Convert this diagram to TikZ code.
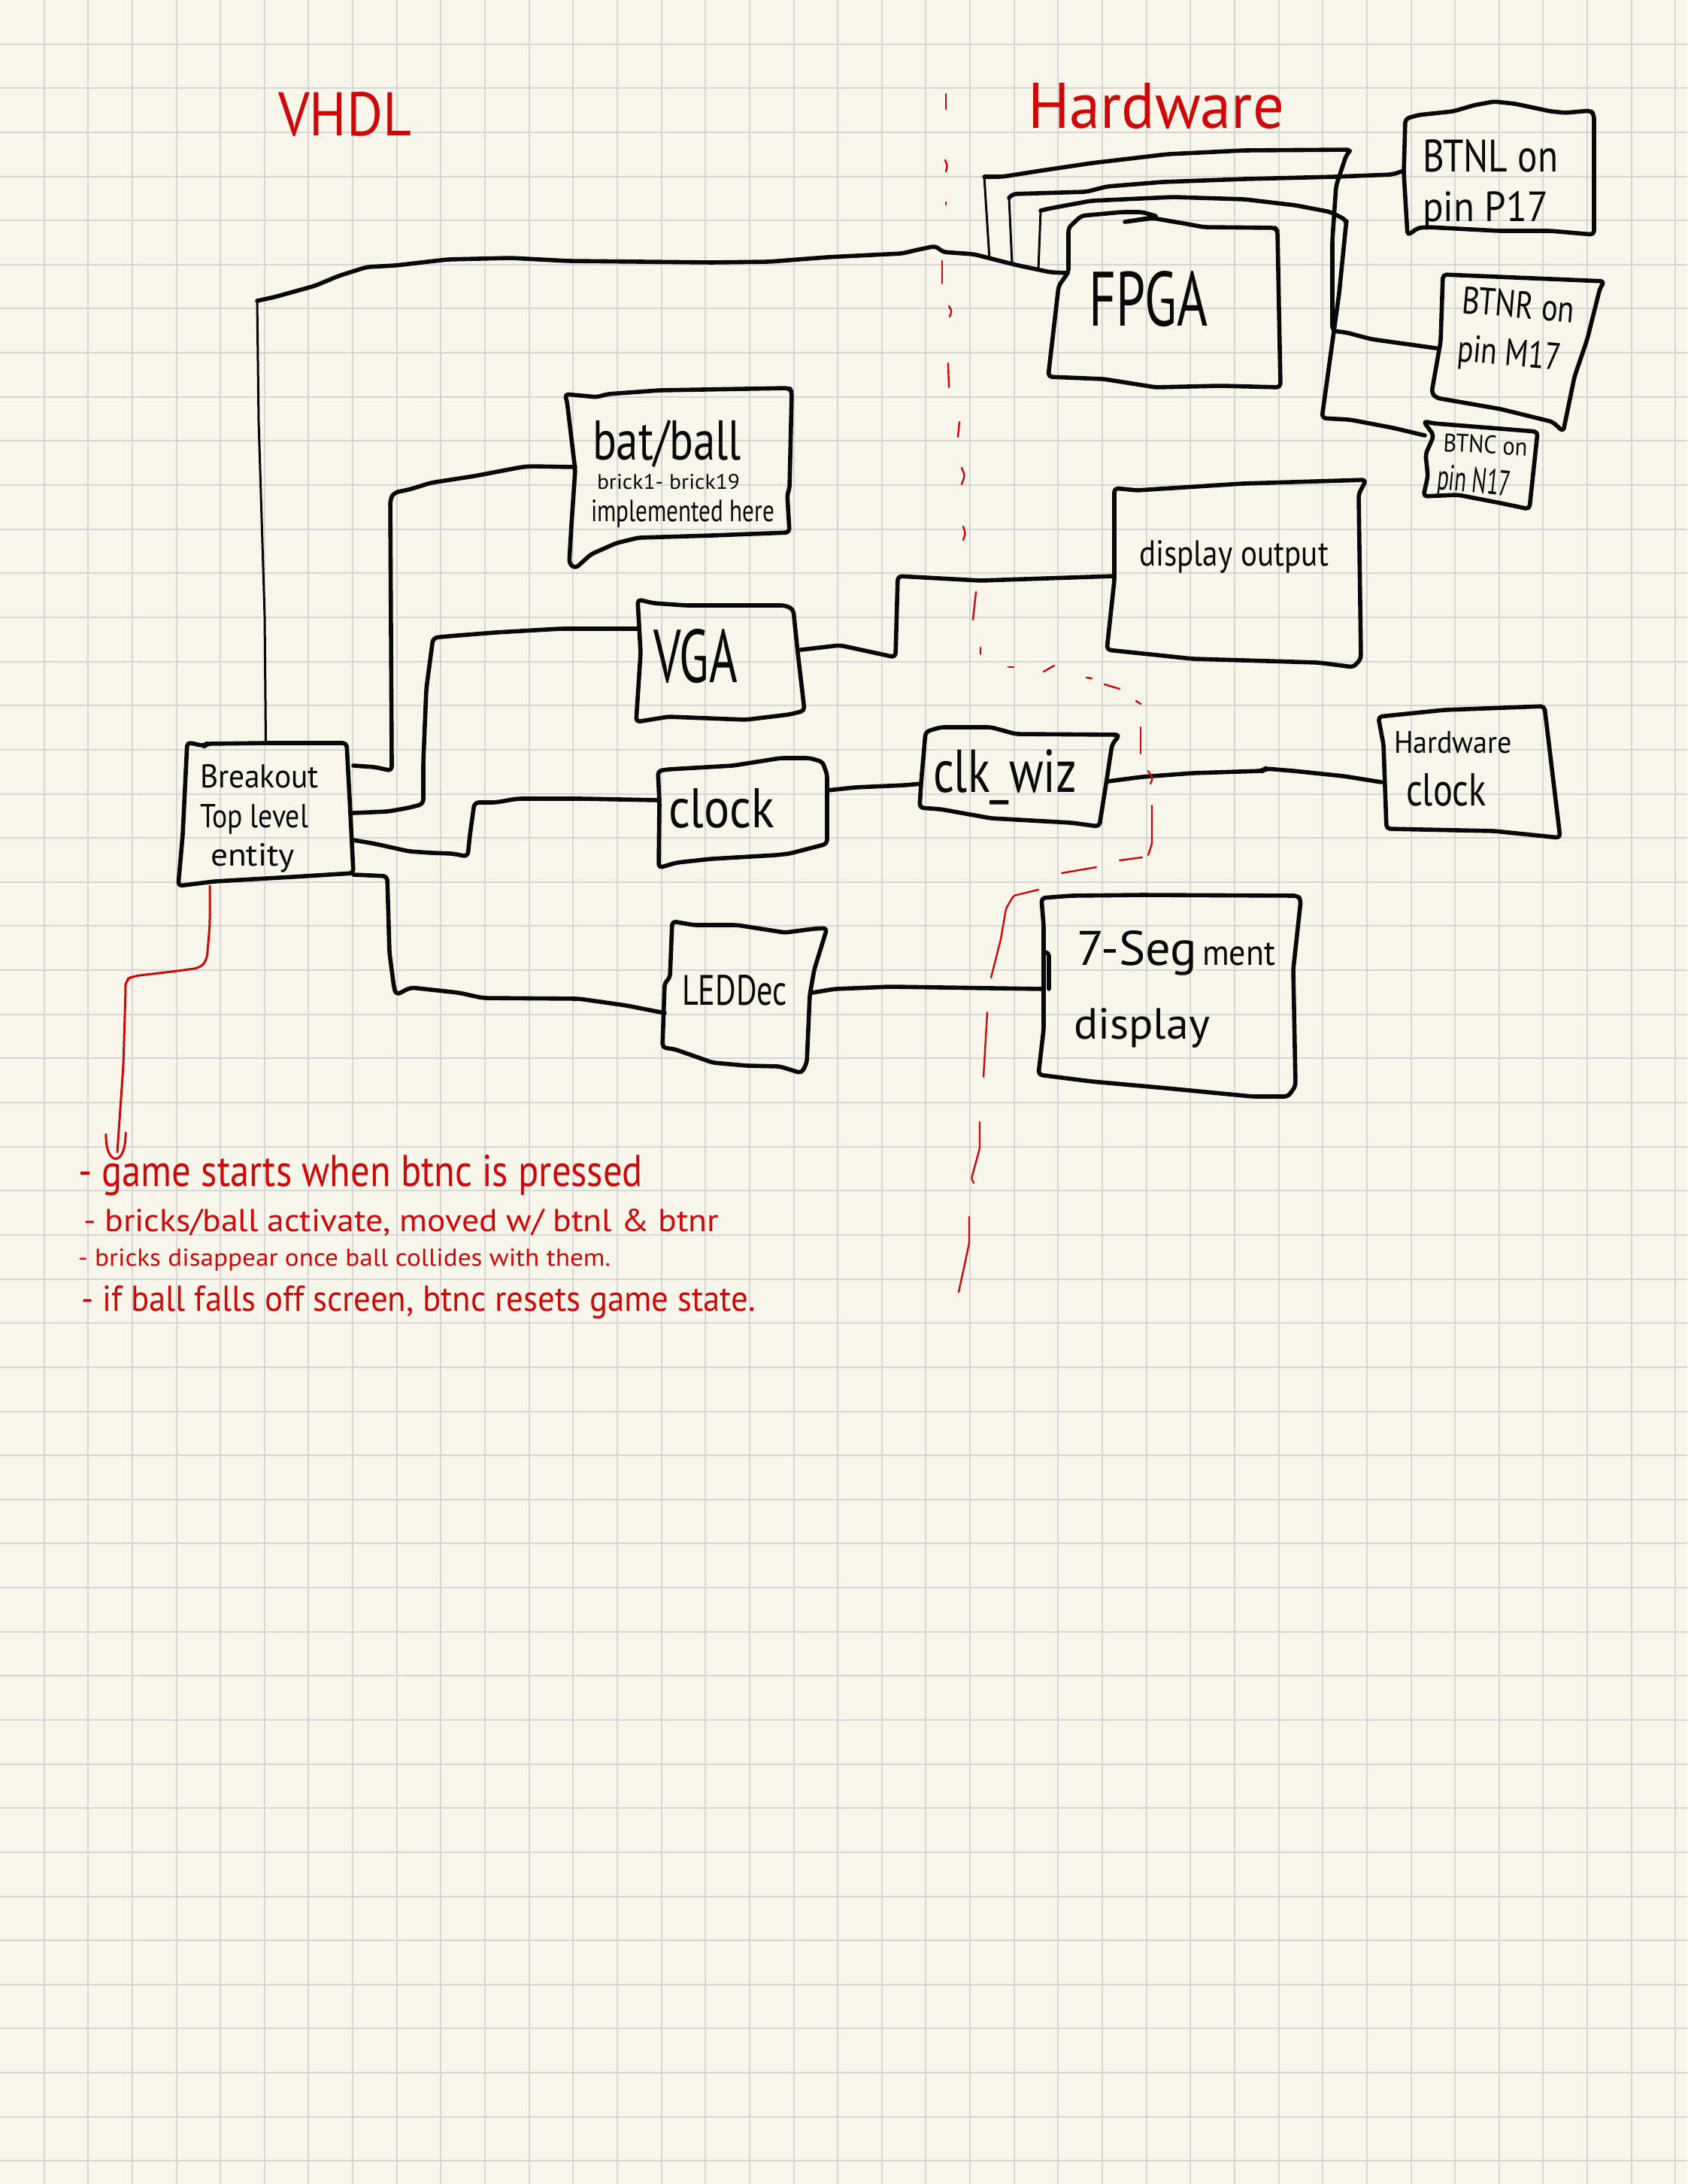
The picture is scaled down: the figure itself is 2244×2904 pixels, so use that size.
\documentclass[tikz,border=0pt]{standalone}
\usepackage{fontspec}
\usepackage{graphicx}
\setmainfont{PT Sans}
\newfontfamily\handfont{PT Sans}
\definecolor{paper}{RGB}{248,246,235}
\definecolor{gridgrey}{RGB}{214,214,214}
\definecolor{ink}{RGB}{8,8,8}
\definecolor{redink}{RGB}{206,8,8}
% \hw{width}{height}{text}: a word set to the given width and height (pt)
\newcommand\hw[3]{{\handfont\fontsize{\the\dimexpr #2pt*139/100\relax}{\the\dimexpr #2pt*167/100\relax}\selectfont\resizebox{#1pt}{#2pt}{#3}}}

\begin{document}
\begin{tikzpicture}[x=1pt,y=-1pt,
  portbox/.style={rectangle,draw=none,inner sep=0pt,outer sep=0pt},
  handbox/.style={draw=ink,line width=5.6pt,line join=round,line cap=round,rounded corners=5pt},
  handwire/.style={draw=ink,line width=5.6pt,line join=round,line cap=round,rounded corners=6pt},
  thinwire/.style={draw=ink,line width=3pt,line join=round,line cap=round},
  lbl/.style={inner sep=0pt,outer sep=0pt,anchor=base west,text=ink},
  redlbl/.style={inner sep=0pt,outer sep=0pt,anchor=base west,text=redink},
  redline/.style={draw=redink,line width=3pt,line join=round,line cap=round,rounded corners=8pt},
  reddash/.style={draw=redink,line width=2.4pt,line join=round,line cap=round,rounded corners=3pt},
  gridline/.style={draw=gridgrey,line width=2pt}]

% paper and squared grid
\useasboundingbox (0,0) rectangle (2244,2904);
\fill[paper] (0,0) rectangle (2244,2904);
\foreach \k in {1,...,38} \draw[gridline] (\k*58.64,0) -- (\k*58.64,2904);
\foreach \k in {1,...,49} \draw[gridline] (0,\k*58.64) -- (2244,\k*58.64);

% column titles
\node[redlbl] (vhdl) at (370,180) {\hw{177}{58}{VHDL}};
\node[redlbl] (hwtitle) at (1367,170) {\hw{341}{60}{Hardware}};

% block frames (ports for the wires)
\node[portbox,minimum width=233pt,minimum height=191pt] (top)   at (353.5,1082.5) {};
\node[portbox,minimum width=288pt,minimum height=240pt] (bat)   at (909,636) {};
\node[portbox,minimum width=215pt,minimum height=163pt] (vga)   at (957.5,878.5) {};
\node[portbox,minimum width=224pt,minimum height=146pt] (clock) at (988,1081) {};
\node[portbox,minimum width=196pt,minimum height=202pt] (led)   at (982,1326) {};
\node[portbox,minimum width=283pt,minimum height=233pt] (fpga)  at (1561.5,398.5) {};
\node[portbox,minimum width=253pt,minimum height=178pt] (btnl)  at (1993.5,224) {};
\node[portbox,minimum width=224pt,minimum height=209pt] (btnr)  at (2022,469.5) {};
\node[portbox,minimum width=147pt,minimum height=117pt] (btnc)  at (1968.5,618.5) {};
\node[portbox,minimum width=330pt,minimum height=249pt] (disp)  at (1647,762.5) {};
\node[portbox,minimum width=248pt,minimum height=132pt] (wiz)   at (1349,1033) {};
\node[portbox,minimum width=238pt,minimum height=175pt] (hwclk) at (1956,1026.5) {};
\node[portbox,minimum width=337pt,minimum height=268pt] (seg)   at (1556.5,1324) {};

% hand-drawn outlines
\draw[handbox] (249,987) -- (272,992) -- (275,989) -- (352,988) -- (461,988) -- (465,1062) -- (470,1161)
  -- (389,1166) -- (285,1172) -- (237,1178) -- (243,1110) -- cycle;
\draw[handbox] (751,524) -- (794,528) -- (808,524) -- (877,519) -- (1050,516) -- (1053,521) -- (1050,650)
  -- (1047,657) -- (1050,708) -- (947,712) -- (849,715) -- (820,722) -- (786,737) -- (765,756) -- (757,749)
  -- (760,698) -- (765,625) -- (754,533) -- cycle;
\draw[handbox] (848,797) -- (869,802) -- (912,805) -- (1044,805) -- (1055,810) -- (1061,868) -- (1070,945)
  -- (1050,950) -- (992,957) -- (889,953) -- (846,960) -- (852,868) -- cycle;
\draw[handbox] (875,1025) -- (889,1023) -- (975,1018) -- (1038,1008) -- (1077,1008) -- (1094,1013) -- (1100,1030)
  -- (1100,1122) -- (1077,1128) -- (1050,1135) -- (1032,1137) -- (946,1142) -- (900,1147) -- (876,1154) -- (877,1067) -- cycle;
\draw[handbox] (894,1225) -- (923,1230) -- (980,1230) -- (1044,1240) -- (1082,1235) -- (1100,1234) -- (1083,1289)
  -- (1077,1323) -- (1073,1413) -- (1066,1427) -- (1037,1418) -- (993,1417) -- (948,1413) -- (897,1395)
  -- (881,1393) -- (884,1307) -- (891,1300) -- cycle;
\draw[handbox] (1496,295) -- (1533,290) -- (1574,297) -- (1601,302) -- (1696,303) -- (1699,307) -- (1703,515)
  -- (1623,513) -- (1537,515) -- (1468,504) -- (1394,501) -- (1408,380) -- (1421,362) -- (1421,303)
  -- (1438,287) -- (1492,282) -- (1519,282) -- (1540,288) -- (1496,295);
\draw[handbox] (1869,158) -- (1886,153) -- (1933,148) -- (1960,140) -- (1987,135) -- (2015,138) -- (2062,148)
  -- (2082,150) -- (2116,147) -- (2120,153) -- (2120,312) -- (2062,307) -- (1994,307) -- (1899,302)
  -- (1886,303) -- (1872,313) -- (1867,230) -- cycle;
\draw[handbox] (1919,365) -- (2134,374) -- (2128,383) -- (2111,451) -- (2094,501) -- (2079,574) -- (2065,561)
  -- (1996,544) -- (1910,529) -- (1904,522) -- (1916,454) -- cycle;
\draw[handbox] (1893,560) -- (1907,563) -- (2045,574) -- (2034,677) -- (1996,669) -- (1939,658) -- (1893,660)
  -- (1899,633) -- (1896,604) -- (1907,579) -- cycle;
\draw[handbox] (1482,649) -- (1512,652) -- (1653,643) -- (1817,638) -- (1807,657) -- (1810,876) -- (1800,887)
  -- (1753,881) -- (1586,876) -- (1472,864) -- (1482,772) -- cycle;
\draw[handbox] (1231,973) -- (1251,967) -- (1318,967) -- (1351,976) -- (1489,977) -- (1479,990) -- (1472,1036)
  -- (1462,1099) -- (1425,1094) -- (1318,1088) -- (1251,1076) -- (1223,1074) -- (1225,1042) -- cycle;
\draw[handbox] (1833,953) -- (1921,944) -- (2054,939) -- (2075,1114) -- (1987,1105) -- (1844,1102) -- (1840,990) -- cycle;
\draw[handbox] (1385,1194) -- (1425,1191) -- (1519,1190) -- (1726,1191) -- (1730,1197) -- (1720,1289) -- (1723,1444)
  -- (1713,1458) -- (1666,1458) -- (1552,1447) -- (1452,1438) -- (1381,1429) -- (1388,1369) -- (1388,1231) -- cycle;
\draw[handbox] (1388,1266) -- (1395,1266) -- (1395,1315);

% labels
\node[lbl] (top-a) at (266,1047) {\hw{158}{31}{Breakout}};
\node[lbl] (top-b) at (266,1100) {\hw{144}{31}{Top level}};
\node[lbl] (top-c) at (280,1151) {\hw{112}{30}{entity}};
\node[lbl] (bat-a) at (788,611) {\hw{198}{53}{bat/ball}};
\node[lbl] (bat-b) at (794,650) {\hw{190}{20}{brick1- brick19}};
\node[lbl] (bat-c) at (786,693) {\hw{244}{29}{implemented here}};
\node[lbl] (vga-a) at (869,907) {\hw{112}{71}{VGA}};
\node[lbl] (clock-a) at (889,1100) {\hw{141}{52}{clock}};
\node[lbl] (led-a) at (907,1336) {\hw{140}{40}{LEDDec}};
\node[lbl] (fpga-a) at (1448,433) {\hw{158}{73}{FPGA}};
\node[lbl] (btnl-a) at (1892,228) {\hw{180}{43}{BTNL on}};
\node[lbl] (btnl-b) at (1892,294) {\hw{167}{40}{pin P17}};
\node[lbl,rotate=-5] (btnr-a) at (1943,416) {\hw{150}{36}{BTNR on}};
\node[lbl,rotate=-5] (btnr-b) at (1937,480) {\hw{138}{36}{pin M17}};
\node[lbl,rotate=-3] (btnc-a) at (1919,600) {\hw{112}{24}{BTNC on}};
\node[lbl,rotate=-6] (btnc-b) at (1910,650) {\hw{98}{34}{pin N17}};
\node[lbl] (disp-a) at (1515,752) {\hw{252}{34}{display output}};
\node[lbl] (wiz-a) at (1241,1053) {\hw{191}{57}{clk\_wiz}};
\node[lbl] (hwclk-a) at (1854,1001) {\hw{157}{29}{Hardware}};
\node[lbl] (hwclk-b) at (1870,1071) {\hw{107}{43}{clock}};
\node[lbl] (seg-a) at (1432,1283) {\hw{160}{46}{7-Seg}\hspace{7pt}\hw{97}{30}{ment}};
\node[lbl] (seg-b) at (1428,1381) {\hw{181}{41}{display}};

% wires from the top level entity
\draw[handwire] (top.east |- 0,1018) -- (499,1020) -- (521,1025) -- (521,1013) -- (519,664) -- (524,655)
  -- (544,651) -- (573,642) -- (631,633) -- (694,621) -- (705,620) -- (bat.west |- 0,621);
\draw[handwire] (top.east |- 0,1081) -- (516,1079) -- (544,1074) -- (563,1069) -- (563,1013) -- (567,916)
  -- (576,848) -- (596,846) -- (659,841) -- (745,836) -- (vga.west |- 0,836);
\draw[handwire] (top.east |- 0,1117) -- (499,1122) -- (544,1132) -- (573,1134) -- (602,1135) -- (622,1139)
  -- (625,1110) -- (631,1067) -- (659,1067) -- (688,1062) -- (774,1062) -- (clock.west |- 0,1064);
\draw[handwire] (top.east |- 0,1163) -- (515,1165) -- (518,1267) -- (524,1313) -- (527,1323) -- (546,1313)
  -- (610,1320) -- (642,1327) -- (770,1328) -- (833,1337) -- (led.west |- 0,1347);

% long wire up to the FPGA
\coordinate (upbend) at (342,400);
\draw[thinwire] (top.north) -- (352,819) -- (344,560) -- (upbend);
\draw[handwire] (upbend) -- (365,395) -- (419,380) -- (450,367) -- (488,355) -- (526,353) -- (595,345)
  -- (679,343) -- (756,347) -- (947,349) -- (1023,348) -- (1100,342) -- (1200,337) -- (1221,332)
  -- (1245,327) -- (1253,335) -- (1295,338) -- (1350,352) -- (1397,362) -- (fpga.west |- 0,363);

% button wires branching off near the FPGA
\coordinate (tapA) at (1316,345);
\coordinate (tapB) at (1346,351);
\coordinate (tapC) at (1381,359);
\coordinate (riseA) at (1309,235);
\coordinate (riseB) at (1342,263);
\coordinate (riseC) at (1384,280);
\draw[thinwire] (tapA) -- (riseA);
\draw[thinwire] (tapB) -- (riseB);
\draw[thinwire] (tapC) -- (riseC);
\draw[handwire] (riseA) -- (1333,235) -- (1384,227) -- (1451,217) -- (1553,205) -- (1655,200) -- (1797,199)
  -- (1791,205) -- (1777,247) -- (1772,319) -- (1772,440) -- (1790,442) -- (1824,451) -- (btnr.west |- 0,463);
\draw[handwire] (riseB) -- (1346,258) -- (1445,255) -- (1472,248) -- (1546,242) -- (1655,238) -- (1777,235)
  -- (1852,232) -- (btnl.west |- 0,227);
\draw[handwire] (riseC) -- (1397,277) -- (1451,267) -- (1560,262) -- (1655,265) -- (1723,273) -- (1770,282)
  -- (1791,293) -- (1790,300) -- (1781,390) -- (1758,556) -- (1795,558) -- (1853,569) -- (btnc.west |- 0,579);

% remaining wires
\draw[handwire] (vga.east |- 0,864) -- (1117,858) -- (1191,874) -- (1194,766) -- (1304,772) -- (disp.west |- 0,766);
\draw[handwire] (clock.east |- 0,1051) -- (1137,1047) -- (1204,1044) -- (wiz.west |- 0,1042);
\draw[handwire] (wiz.east |- 0,1039) -- (1519,1033) -- (1586,1028) -- (1679,1025) -- (1683,1022) -- (1720,1025)
  -- (1787,1032) -- (hwclk.west |- 0,1040);
\draw[handwire] (led.east |- 0,1320) -- (1110,1315) -- (1184,1312) -- (seg.west |- 0,1315);

% divider between the VHDL and hardware sides
\draw[reddash] (1258,125) -- (1258,145);
\draw[reddash] (1257,213) -- (1260,220) -- (1258,228);
\draw[reddash] (1258,269) -- (1258,272);
\draw[reddash] (1253,347) -- (1253,377);
\draw[reddash] (1262,407) -- (1266,414) -- (1263,421);
\draw[reddash] (1261,483) -- (1262,515);
\draw[reddash] (1276,561) -- (1274,581);
\draw[reddash] (1279,622) -- (1283,632) -- (1279,644);
\draw[reddash] (1281,700) -- (1284,709) -- (1281,718);
\draw[reddash] (1298,787) -- (1294,824);
\draw[reddash] (1304,861) -- (1304,870);
\draw[reddash] (1341,887) -- (1348,887);
\draw[reddash] (1388,893) -- (1402,885);
\draw[reddash] (1445,901) -- (1452,902);
\draw[reddash] (1469,910) -- (1489,916);
\draw[reddash] (1511,932) -- (1517,936);
\draw[reddash] (1517,967) -- (1517,1002);
\draw[reddash] (1527,1025) -- (1533,1035) -- (1530,1042);
\draw[reddash] (1532,1071) -- (1532,1122) -- (1527,1137);
\draw[reddash] (1519,1140) -- (1489,1144);
\draw[reddash] (1458,1153) -- (1412,1161);
\draw[reddash] (1381,1183) -- (1348,1191) -- (1338,1208) -- (1331,1249) -- (1318,1300);
\draw[reddash] (1313,1346) -- (1308,1432);
\draw[reddash] (1303,1492) -- (1303,1527) -- (1292,1567) -- (1295,1573);
\draw[reddash] (1289,1618) -- (1289,1653) -- (1275,1718);

% notes on game behaviour
\coordinate (notetip) at (156,1532);
\draw[redline] (top.south -| 279,0) -- (279,1230) -- (275,1277) -- (266,1287) -- (228,1292) -- (177,1298)
  -- (167,1303) -- (167,1317) -- (164,1417) -- (notetip);
\draw[draw=redink,line width=3pt,line cap=round] (141,1508) .. controls (140,1552) and (168,1552) .. (167,1506);
\node[redlbl] (note1) at (104,1577) {\hw{751}{42}{- game starts when btnc is pressed}};
\node[redlbl] (note2) at (111,1637) {\hw{845}{30}{- bricks/ball activate, moved w/ btnl \& btnr}};
\node[redlbl] (note3) at (104,1683) {\hw{708}{23}{- bricks disappear once ball collides with them.}};
\node[redlbl] (note4) at (108,1743) {\hw{897}{34}{- if ball falls off screen, btnc resets game state.}};
\end{tikzpicture}
\end{document}
